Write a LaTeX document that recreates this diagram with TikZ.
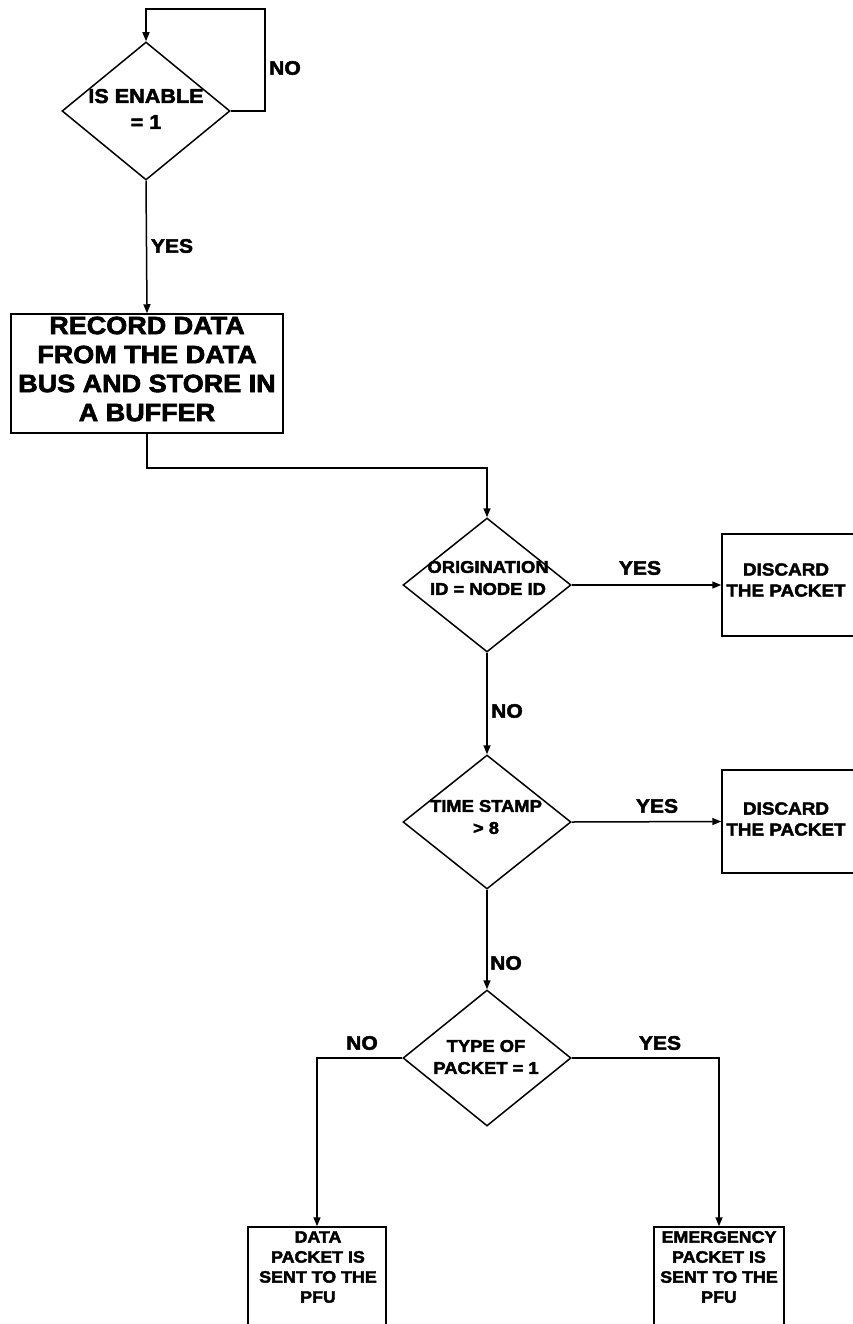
\documentclass[tikz,border=0pt]{standalone}
\usepackage{fontspec}
\newfontfamily\hv{Liberation Sans}[FakeStretch=1.08, BoldFeatures={FakeBold=2.5}]
\usetikzlibrary{shapes.geometric,arrows.meta}
\newcommand\setfs[2]{\fontsize{#1}{#2}\selectfont}
\begin{document}
\begin{tikzpicture}[x=1pt,y=-1pt,
  line width=1.5pt,
  dec/.style={diamond, draw, inner sep=0pt, minimum width=168pt, minimum height=136pt},
  box/.style={rectangle, draw, inner sep=0pt},
  txt/.style={font=\hv\bfseries\setfs{17.5}{21}, align=center, inner sep=0pt},
  lab/.style={font=\hv\bfseries\setfs{19.5}{22}, inner sep=0pt},
  arr/.style={-{Triangle[length=9pt,width=7pt]}}
]
\useasboundingbox (0,0) rectangle (853,1324);

% shapes
\node[dec, minimum height=138pt] (d1) at (146,111) {};
\node[box, minimum width=272pt, minimum height=119pt] (rec) at (147,373.5) {};
\node[dec, minimum height=134pt] (d2) at (487,585) {};
\node[box, minimum width=134pt, minimum height=102pt] (disc1) at (789,585) {};
\node[dec, minimum height=134pt] (d3) at (487,822) {};
\node[box, minimum width=134pt, minimum height=103pt] (disc2) at (789,821.5) {};
\node[dec, minimum height=136pt] (d4) at (487,1058) {};
\node[box, minimum width=138pt, minimum height=110pt] (out1) at (317,1282) {};
\node[box, minimum width=130pt, minimum height=110pt] (out2) at (719,1282) {};

% texts
\node[txt, font=\hv\bfseries\setfs{20}{26}] (t1) at (146,109) {IS ENABLE\\= 1};
\node[txt, font=\hv\bfseries\setfs{25}{29}] (trec) at (147,369) {RECORD DATA\\FROM THE DATA\\BUS AND STORE IN\\A BUFFER};
\node[txt, font=\hv\bfseries\setfs{17}{22}] (t2) at (488,578) {ORIGINATION\\ID = NODE ID};
\node[txt] (tdisc1) at (786,580) {DISCARD\\THE PACKET};
\node[txt, font=\hv\bfseries\setfs{17}{22}] (t3) at (486,817) {TIME STAMP\\> 8};
\node[txt] (tdisc2) at (786,819) {DISCARD\\THE PACKET};
\node[txt, font=\hv\bfseries\setfs{17}{22}] (t4) at (486,1057) {TYPE OF\\PACKET = 1};
\node[txt, font=\hv\bfseries\setfs{16.5}{20}] (tout1) at (318,1267) {DATA\\PACKET IS\\SENT TO THE\\PFU};
\node[txt, font=\hv\bfseries\setfs{16.5}{20}] (tout2) at (719,1267) {EMERGENCY\\PACKET IS\\SENT TO THE\\PFU};

% connectors
\coordinate (loop) at (265,9);
\coordinate (j1) at (487,468);
\draw[arr] (d1.east) -| (loop) -| (d1.north);
\draw[arr] (d1.south) -- (rec.north);
\draw[arr] (rec.south) |- (j1) -- (d2.north);
\draw[arr] (d2.east) -- (disc1.west);
\draw[arr] (d2.south) -- (d3.north);
\draw[arr] (d3.east) -- (disc2.west);
\draw[arr] (d3.south) -- (d4.north);
\draw[arr] (d4.west) -| (out1.north);
\draw[arr] (d4.east) -| (out2.north);

% branch labels
\node[lab] (n1) at (285,68) {NO};
\node[lab] (y1) at (172,246) {YES};
\node[lab] (y2) at (640,568) {YES};
\node[lab] (n2) at (507,711) {NO};
\node[lab] (y3) at (657,806) {YES};
\node[lab] (n3) at (506,963) {NO};
\node[lab] (n4) at (362,1043) {NO};
\node[lab] (y4) at (660,1043) {YES};
\end{tikzpicture}
\end{document}
